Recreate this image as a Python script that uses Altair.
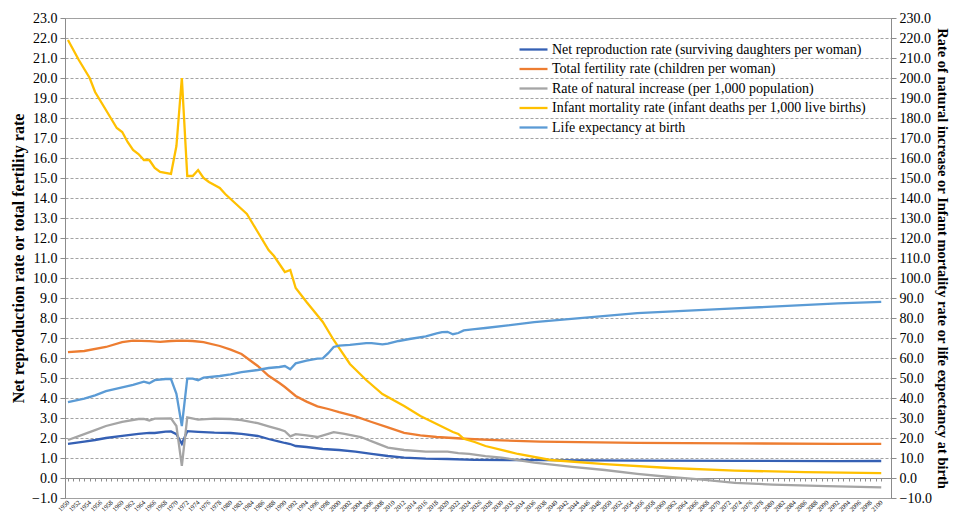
import altair as alt
import pandas as pd

S_NRR = "Net reproduction rate (surviving daughters per woman)"
S_TFR = "Total fertility rate (children per woman)"
S_RNI = "Rate of natural increase (per 1,000 population)"
S_IMR = "Infant mortality rate (infant deaths per 1,000 live births)"
S_LE = "Life expectancy at birth"

series_names = [S_NRR, S_TFR, S_RNI, S_IMR, S_LE]
series_colors = ["#3560b4", "#ed7d31", "#a5a5a5", "#ffc000", "#5b9bd5"]

# Left axis series
nrr_years = [1950, 1953, 1955, 1957, 1960, 1963, 1965, 1966, 1968, 1969, 1970, 1971, 1972, 1974, 1977,
             1980, 1982, 1985, 1987, 1989, 1990, 1991, 1992, 1994, 1997, 2000, 2003, 2006, 2009, 2012,
             2016, 2020, 2025, 2037, 2055, 2075, 2092, 2100]
nrr_vals = [1.71, 1.82, 1.90, 2.00, 2.11, 2.21, 2.26, 2.25, 2.32, 2.33, 2.19, 1.71, 2.34, 2.31, 2.27,
            2.25, 2.21, 2.10, 1.95, 1.82, 1.75, 1.70, 1.60, 1.55, 1.45, 1.40, 1.32, 1.21, 1.10, 1.02,
            0.97, 0.95, 0.91, 0.89, 0.87, 0.86, 0.84, 0.85]

tfr_years = [1950, 1953, 1957, 1960, 1962, 1965, 1967, 1969, 1971, 1973, 1975, 1978, 1980, 1982, 1983,
             1985, 1987, 1989, 1990, 1992, 1994, 1996, 1998, 2000, 2003, 2006, 2009, 2012, 2015, 2018,
             2021, 2024, 2030, 2037, 2055, 2073, 2092, 2100]
tfr_vals = [6.29, 6.35, 6.55, 6.79, 6.87, 6.84, 6.81, 6.85, 6.87, 6.85, 6.79, 6.60, 6.42, 6.20, 6.00,
            5.60, 5.11, 4.75, 4.55, 4.10, 3.82, 3.58, 3.45, 3.29, 3.08, 2.80, 2.53, 2.26, 2.13, 2.05,
            2.00, 1.95, 1.88, 1.82, 1.76, 1.73, 1.71, 1.71]

# Right axis series
rni_years = [1950, 1953, 1955, 1957, 1960, 1963, 1964, 1965, 1966, 1969, 1970, 1971, 1972, 1974, 1977,
             1980, 1982, 1985, 1987, 1989, 1990, 1991, 1992, 1994, 1996, 1998, 1999, 2001, 2004, 2007,
             2009, 2012, 2016, 2020, 2022, 2024, 2027, 2030, 2036, 2043, 2049, 2055, 2061, 2067, 2073,
             2080, 2090, 2100]
rni_vals = [19.0, 21.9, 23.9, 26.0, 28.1, 29.5, 29.6, 28.7, 29.7, 29.8, 26.0, 6.1, 30.3, 29.2, 29.7,
            29.5, 28.9, 27.4, 25.8, 24.3, 23.4, 20.8, 21.9, 21.3, 20.5, 22.1, 22.9, 22.1, 20.5, 17.3,
            15.2, 14.0, 13.2, 13.2, 12.4, 12.1, 10.9, 10.2, 7.7, 5.6, 4.0, 2.1, 0.5, -0.8, -2.4,
            -3.3, -4.1, -4.7]

imr_years = [1950, 1952, 1954, 1955, 1957, 1959, 1960, 1961, 1962, 1963, 1964, 1965, 1966, 1967, 1969,
             1970, 1971, 1972, 1973, 1974, 1975, 1976, 1978, 1979, 1981, 1983, 1985, 1987, 1988, 1990,
             1991, 1992, 1994, 1997, 1999, 2002, 2005, 2008, 2012, 2015, 2018, 2021, 2022, 2023, 2025,
             2027, 2033, 2039, 2049, 2061, 2073, 2086, 2100]
imr_vals = [219, 209, 200, 193, 184, 175, 173, 168, 164, 162, 159, 159, 155, 153, 152,
            166, 200, 151, 151, 154, 150, 148, 145, 142, 137, 132, 123, 114, 111, 103,
            104, 95, 88, 78, 69, 57, 49, 42, 36, 31, 27, 23, 22, 19.6, 18,
            16, 12, 9, 6.9, 5.0, 3.7, 2.9, 2.4]

le_years = [1950, 1953, 1955, 1957, 1960, 1962, 1964, 1965, 1966, 1968, 1969, 1970, 1971, 1972, 1973,
            1974, 1975, 1978, 1980, 1982, 1985, 1987, 1989, 1990, 1991, 1992, 1994, 1996, 1997, 1998,
            1999, 2000, 2002, 2005, 2006, 2008, 2009, 2011, 2013, 2016, 2018, 2019, 2020, 2021, 2022,
            2023, 2025, 2027, 2036, 2055, 2073, 2092, 2100]
le_vals = [37.9, 39.7, 41.3, 43.4, 45.3, 46.6, 48.2, 47.4, 48.9, 49.5, 49.5, 42.1, 26.0, 49.7, 49.7,
           48.9, 50.2, 51.0, 51.8, 52.9, 54.0, 55.0, 55.5, 56.0, 54.4, 57.3, 58.7, 59.7, 59.8, 62.4,
           65.5, 66.2, 66.6, 67.4, 67.4, 66.8, 67.2, 68.5, 69.5, 70.8, 72.3, 72.9, 73.1, 71.9, 72.5,
           73.8, 74.4, 75.0, 77.9, 82.4, 84.8, 87.3, 88.1]

left_ticks = list(range(-1, 24))
right_ticks = list(range(-10, 231, 10))
label_years = list(range(1950, 2101, 2))
tick_years = list(range(1950, 2101))

rows = []
for name, ys, vs, ax in [
    (S_NRR, nrr_years, nrr_vals, "left"),
    (S_TFR, tfr_years, tfr_vals, "left"),
    (S_RNI, rni_years, rni_vals, "right"),
    (S_IMR, imr_years, imr_vals, "right"),
    (S_LE, le_years, le_vals, "right"),
]:
    for y, v in zip(ys, vs):
        rows.append({"series": name, "year": y, "value": v, "axis": ax})
df = pd.DataFrame(rows)

SERIF = "Liberation Serif"
W, H = 826, 480
unit_px = H / 24.0

xscale = alt.Scale(domain=[1949.45, 2101.8], nice=False, zero=False)
yscale_left = alt.Scale(domain=[-1, 23], nice=False, zero=False)

color = alt.Color(
    "series:N",
    scale=alt.Scale(domain=series_names, range=series_colors),
    sort=series_names,
    legend=alt.Legend(
        orient="none", legendX=457, legendY=20, title=None,
        symbolType="M-1.4,0H1.4", symbolSize=400, symbolStrokeWidth=2.3,
        labelFont=SERIF, labelFontSize=14, labelColor="#000", labelOffset=7,
        labelLimit=600, rowPadding=0.5, padding=0,
    ),
)

base = alt.Chart(df)

left_lines = base.transform_filter(alt.datum.axis == "left").mark_line(strokeWidth=2.3).encode(
    x=alt.X("year:Q", scale=xscale, axis=alt.Axis(
        orient="bottom", values=label_years, format="d", labelAngle=-45, labelAlign="right",
        labelBaseline="middle", labelFontSize=6.5, labelOverlap=False, labelPadding=3,
        domain=False, ticks=False, grid=False, title=None)),
    y=alt.Y("value:Q", scale=yscale_left, axis=alt.Axis(
        values=left_ticks, format=".1f", grid=True, gridColor="#a2a2a2", gridWidth=1,
        gridDash=[3, 2], domainColor="#8c8c8c", tickColor="#8c8c8c", tickSize=5,
        labelFontSize=14, labelPadding=3,
        title="Net reproduction rate or total fertility rate",
        titleFontSize=16, titleFontWeight="bold", titlePadding=5)),
    color=color,
)

right = base.transform_filter(alt.datum.axis == "right").mark_line(strokeWidth=2.3).encode(
    x=alt.X("year:Q", scale=xscale, axis=alt.Axis(
        orient="bottom", offset=-unit_px, values=tick_years, labels=False, ticks=True, tickSize=3,
        tickColor="#8c8c8c", domain=True, domainColor="#8c8c8c", grid=False, title=None)),
    y=alt.Y("value:Q", scale=alt.Scale(domain=[-10, 230], nice=False, zero=False), axis=alt.Axis(
        orient="right", values=right_ticks, format=".1f", grid=False,
        domainColor="#8c8c8c", tickColor="#8c8c8c", tickSize=5,
        labelFontSize=14, labelPadding=3,
        title="Rate of natural increase or Infant mortality rate or life expectancy at birth",
        titleFontSize=14.5, titleFontWeight="bold", titlePadding=3)),
    color=color,
)

chart = alt.layer(left_lines, right).resolve_scale(y="independent").resolve_axis(x="independent").properties(
    width=W, height=H,
    autosize=alt.AutoSizeParams(type="none"),
    padding={"left": 57, "top": 10, "right": 61, "bottom": 16},
).configure_view(stroke="#a0a0a0", strokeWidth=1).configure_axis(
    labelFont=SERIF, titleFont=SERIF, labelColor="#000", titleColor="#000"
)

chart.save("out.html", embed_options={"renderer": "svg", "actions": False})
